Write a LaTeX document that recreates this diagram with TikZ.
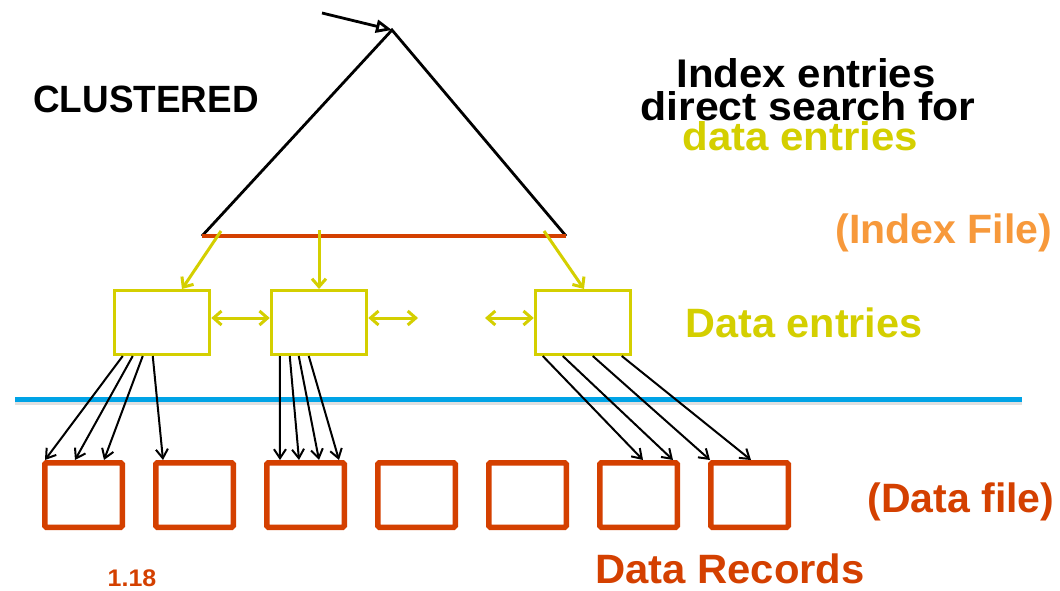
\documentclass[tikz,border=0pt]{standalone}
\usepackage{fontspec}
\setmainfont{Liberation Sans}
\usepackage{graphicx}
\usetikzlibrary{arrows.meta,calc}

\definecolor{entryyellow}{HTML}{D4CF00}
\definecolor{recordred}{HTML}{D44000}
\definecolor{filelight}{HTML}{F7993B}
\definecolor{dividerblue}{HTML}{00A3E6}

% horizontally stretched text
\newcommand\hstretch[2]{\scalebox{#1}[1]{#2}}

\begin{document}
\begin{tikzpicture}[x=1pt,y=-1pt,
  entrybox/.style={draw=entryyellow, line width=3pt, minimum width=95.5pt,
    minimum height=64pt, inner sep=0pt},
  recordbox/.style={draw=recordred, line width=5.5pt, rounded corners=1.5pt,
    minimum width=77.5pt, minimum height=64.5pt, inner sep=0pt},
  ptr/.style={line width=2pt, -{Straight Barb[length=9pt,width=12pt]}},
  yptr/.style={draw=entryyellow, line width=3pt,
    -{Straight Barb[length=8pt,width=14pt]}},
  ydbl/.style={draw=entryyellow, line width=3pt,
    {Straight Barb[length=8pt,width=14pt]}-{Straight Barb[length=8pt,width=14pt]}},
  lbl/.style={inner sep=0pt, anchor=base},
  fs/.style={font=\bfseries\fontsize{#1}{#1}\selectfont}
]
\fill[white] (0,0) rectangle (1060,591);
\useasboundingbox (0,0) rectangle (1060,591);

% ---- index tree ----
\coordinate (apex) at (392,30);
\coordinate (bl) at (202,236);
\coordinate (br) at (566,236);
\coordinate (feed) at (322,13);
\draw[line width=2.8pt] (bl) -- (apex) -- (br);
\draw[recordred, line width=3.5pt] (bl) -- (br);
\draw[line width=2.8pt, -{Triangle[open,length=16pt,width=13pt]}] (feed) -- (apex);

% ---- data entries (leaf pages) ----
\node[entrybox] (e1) at (162,322.5) {};
\node[entrybox] (e2) at (319,322.5) {};
\node[entrybox] (e3) at (583,322.5) {};

\coordinate (t1) at (221,231);
\coordinate (t2) at (319,230);
\coordinate (t3) at (544,231);
\draw[yptr] (t1) -- ([xshift=20pt]e1.north);
\draw[yptr] (t2) -- (e2.north);
\draw[yptr] (t3) -- ([xshift=1pt]e3.north);

\coordinate (gapL) at (418,318);
\coordinate (gapR) at (485,318);
\draw[ydbl] ([yshift=4.5pt]e1.east) -- ([yshift=4.5pt]e2.west);
\draw[ydbl] ([yshift=4.5pt]e2.east) -- (gapL);
\draw[ydbl] (gapR) -- ([yshift=4.5pt]e3.west);

% ---- divider between index file and data file ----
\coordinate (divL) at (15,399);
\coordinate (divR) at (1022,399);
\draw[line width=4pt, black!12] ([yshift=-4pt]divL) -- ([yshift=-4pt]divR);
\draw[line width=5pt, dividerblue] (divL) -- (divR);

% ---- data records ----
\foreach \i in {1,...,7}
  \node[recordbox] (d\i) at ({83.5+111*(\i-1)},495) {};

% pointers from data entries to records
\draw[ptr] ([xshift=10pt]e1.south west) -- ([xshift=3pt]d1.north west);
\draw[ptr] ([xshift=20pt]e1.south west) -- ([xshift=33pt]d1.north west);
\draw[ptr] ([xshift=30pt]e1.south west) -- ([xshift=62pt]d1.north west);
\draw[ptr] ([xshift=40pt]e1.south west) -- ([xshift=10pt]d2.north west);

\draw[ptr] ([xshift=10pt]e2.south west) -- ([xshift=16pt]d3.north west);
\draw[ptr] ([xshift=20pt]e2.south west) -- ([xshift=35pt]d3.north west);
\draw[ptr] ([xshift=29pt]e2.south west) -- ([xshift=55pt]d3.north west);
\draw[ptr] ([xshift=39pt]e2.south west) -- ([xshift=75pt]d3.north west);

\draw[ptr] ([xshift=9pt]e3.south west) -- ([xshift=46pt]d6.north west);
\draw[ptr] ([xshift=29pt]e3.south west) -- ([xshift=76pt]d6.north west);
\draw[ptr] ([xshift=59pt]e3.south west) -- ([xshift=2pt]d7.north west);
\draw[ptr] ([xshift=88pt]e3.south west) -- ([xshift=43pt]d7.north west);

% ---- labels ----
\node[lbl, fs=38] (clustered) at (146,113) {\hstretch{0.97}{CLUSTERED}};
\node[lbl, fs=40] (idx1) at (806,88) {\hstretch{1.05}{Index entries}};
\node[lbl, fs=40] (idx2) at (808,121) {\hstretch{1.07}{direct search for}};
\node[lbl, fs=40, text=entryyellow] (idx3) at (800.5,150) {\hstretch{1.05}{data entries}};
\node[lbl, fs=41, text=filelight] (indexfile) at (944,243) {(Index File)};
\node[lbl, fs=41, text=entryyellow] (dataentries) at (804,337) {\hstretch{1.01}{Data entries}};
\node[lbl, fs=41, text=recordred] (datafile) at (961,512) {(Data file)};
\node[lbl, fs=41, text=recordred] (datarecords) at (730,583) {\hstretch{1.02}{Data Records}};
\node[lbl, fs=24, text=recordred] (pagenum) at (132,586) {\hstretch{1.04}{1.18}};
\end{tikzpicture}
\end{document}
